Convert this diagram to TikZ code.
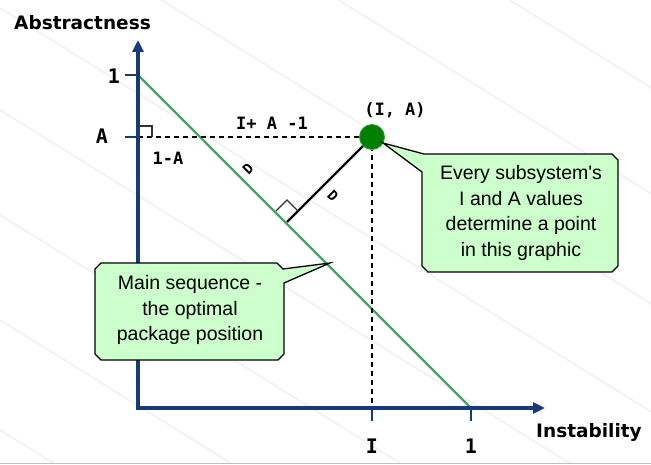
\documentclass[tikz,border=0pt]{standalone}
\usepackage{fontspec}
\setmainfont{Liberation Sans}
\newfontfamily\callfont{Liberation Sans}
\newfontfamily\axisfont{DejaVu Sans}
\newfontfamily\codefont{DejaVu Sans Mono}
\usetikzlibrary{arrows.meta}
\definecolor{axisblue}{RGB}{22,58,122}
\definecolor{mainline}{RGB}{60,168,100}
\definecolor{dotgreen}{RGB}{0,128,0}
\definecolor{callfill}{RGB}{204,255,204}
\definecolor{bgline}{RGB}{240,240,242}
\tikzset{
  axistitle/.style={font=\axisfont\bfseries\fontsize{18.5}{20}\selectfont, inner sep=0pt},
  axisval/.style={font=\codefont\bfseries\fontsize{20}{22}\selectfont, inner sep=0pt},
  mathlab/.style={font=\codefont\bfseries\fontsize{17}{18}\selectfont, inner sep=0pt},
  dlab/.style={font=\codefont\bfseries\fontsize{14}{14}\selectfont, inner sep=0pt},
  calltext/.style={font=\callfont\fontsize{19.5}{25.7}\selectfont, align=center, inner sep=0pt},
  callbox/.style={draw=black, line width=1.3pt, fill=callfill},
  tickline/.style={draw=axisblue, line width=1.6pt},
  guide/.style={draw=black, dashed, dash pattern=on 5pt off 4pt, line width=1.4pt},
  rightmark/.style={draw=black!80, line width=1.1pt},
}
\begin{document}
\begin{tikzpicture}[x=1pt,y=-1pt]
\useasboundingbox (0,0) rectangle (651,465);
\fill[white] (0,0) rectangle (651,465);
% faint background lines
\begin{scope}
\clip (0,0) rectangle (651,462);
\foreach \c in {-316,-210,-100,8,110,215,320,430}{
  \draw[bgline, line width=1.5pt] (0,\c) -- (651,{\c+0.62*651});
}
\end{scope}
\draw[black!25, line width=1.5pt] (0,463.5) -- (651,463.5);
% coordinates
\coordinate (O) at (138,408);
\coordinate (Ytip) at (138,40);
\coordinate (Xtip) at (545,408);
\coordinate (Y1) at (138,75);
\coordinate (Y1t) at (125,75);
\coordinate (YA) at (138,137);
\coordinate (YAt) at (125,137);
\coordinate (X1) at (471,408);
\coordinate (X1t) at (471,421);
\coordinate (XI) at (372,408);
\coordinate (XIt) at (372,421);
\coordinate (P) at (372,137);
\coordinate (F) at (287,222);
% main sequence
\draw[mainline, line width=2.4pt] (Y1) -- (X1);
% dashed guides
\draw[guide] (YA) -- (P);
\draw[guide] (P) -- (XI);
% D segment
\draw[black, line width=2.4pt] (P) -- (F);
% right angle marks
\draw[rightmark] (F) ++(-11,-11) -- ++(11,-11) -- ++(11,11);
\draw[rightmark] (138,126) -- (152,126) -- (152,137);
% axes
\draw[axisblue, line width=4pt, {Triangle[length=12pt,width=11pt]}-{Triangle[length=12pt,width=11pt]}] (Ytip) -- (O) -- (Xtip);
\draw[tickline] (Y1t) -- (Y1);
\draw[tickline] (YAt) -- (YA);
\draw[tickline] (X1) -- (X1t);
\draw[tickline] (XI) -- (XIt);
% point
\node[circle, fill=dotgreen, draw=dotgreen!80!white, line width=0.8pt, minimum size=25pt, inner sep=0pt] (pt) at (P) {};
% labels
\node[axistitle, anchor=base west] (abs) at (14,30) {Abstractness};
\node[axistitle, anchor=base west] (ins) at (536,437) {Instability};
\node[axisval] (l1) at (114,76) {1};
\node[axisval] (lA) at (102,136) {A};
\node[axisval] (lI) at (372,446) {I};
\node[axisval] (lX1) at (471,446) {1};
\node[mathlab] (oneA) at (168,158) {1-A};
\node[mathlab] (ipa) at (272,123) {I+ A -1};
\node[mathlab] (ia) at (395,110) {(I, A)};
\node[dlab, rotate=45] (d1) at (248,169) {D};
\node[dlab, rotate=-45] (d2) at (333,196) {D};
% callout 1
\draw[callbox] (383,143) -- (424,154) -- (612,154) -- (618,160) -- (618,266) -- (612,272) -- (428,272) -- (422,266) -- (422,172) -- cycle;
\node[calltext] (c1) at (521,213) {Every subsystem's\\I and A values\\determine a point\\in this graphic};
% callout 2
\draw[callbox] (101,263) -- (277,263) -- (283,269) -- (330,263) -- (284,283) -- (284,354) -- (278,360) -- (101,360) -- (95,354) -- (95,269) -- cycle;
\node[calltext] (c2) at (190,310) {Main sequence -\\the optimal\\package position};
\end{tikzpicture}
\end{document}
